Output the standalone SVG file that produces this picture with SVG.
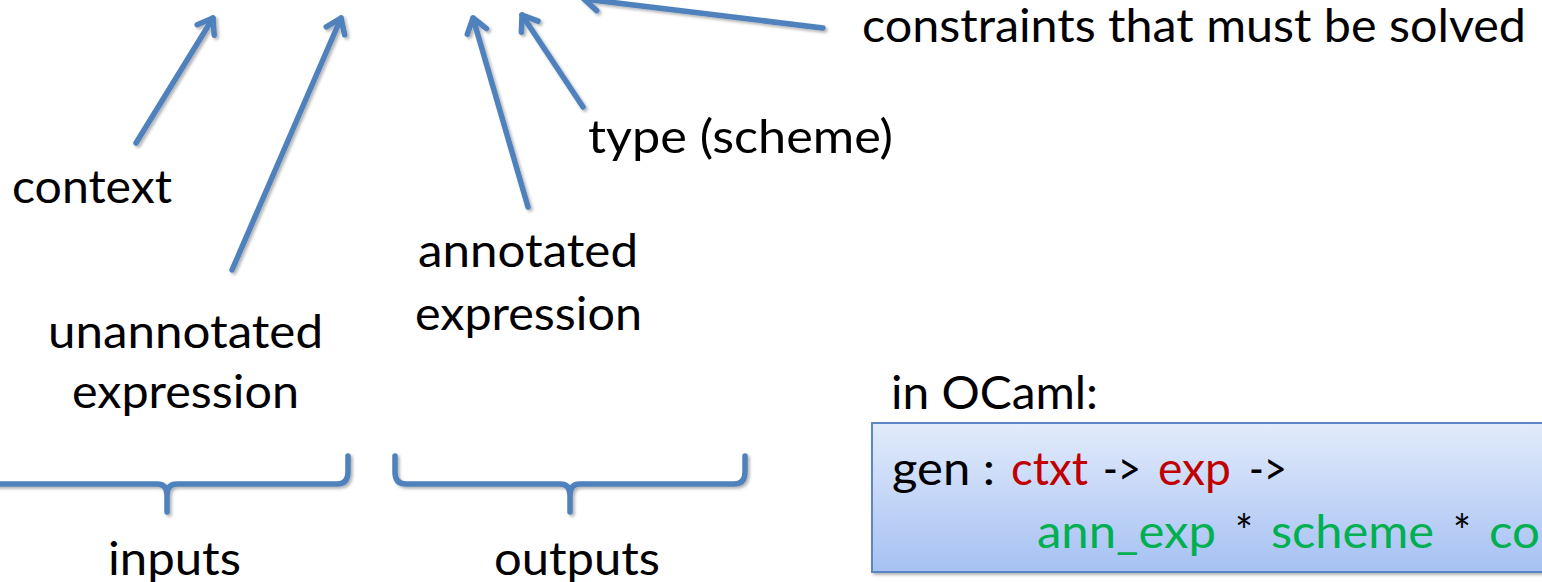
<svg xmlns="http://www.w3.org/2000/svg" width="1542" height="582" viewBox="0 0 1542 582">
<style>
  text { font-family: Lato, "Liberation Sans", sans-serif; font-size: 46px; fill: #000; }
  .conn { fill: none; stroke: #4F81BD; stroke-width: 5.5; stroke-linecap: round; stroke-linejoin: round; }
  .red { fill: #C00000; }
  .green { fill: #00B050; }
</style>
<defs>
  <marker id="head" markerUnits="userSpaceOnUse" markerWidth="40" markerHeight="40" viewBox="-20 -20 40 40" refX="0" refY="0" orient="auto">
    <path d="M -14 -10 L 0 0 L -14 10" fill="none" stroke="#4F81BD" stroke-width="5.5" stroke-linecap="round" stroke-linejoin="round"/>
  </marker>
  <filter id="shadow" x="-10%" y="-10%" width="130%" height="130%">
    <feDropShadow dx="2" dy="2" stdDeviation="1.5" flood-color="#000" flood-opacity="0.3"/>
  </filter>
  <linearGradient id="boxfill" x1="0" y1="0" x2="0" y2="1">
    <stop offset="0" stop-color="#E2EBFB"/>
    <stop offset="1" stop-color="#A6C1F3"/>
  </linearGradient>
</defs>
<rect width="1542" height="582" fill="#fff"/>

<g id="connectors" filter="url(#shadow)">
  <line class="conn" x1="136" y1="143" x2="213" y2="18" marker-end="url(#head)"/>
  <line class="conn" x1="232" y1="270" x2="341" y2="18" marker-end="url(#head)"/>
  <line class="conn" x1="528" y1="207" x2="473" y2="18" marker-end="url(#head)"/>
  <line class="conn" x1="583" y1="107" x2="522" y2="15" marker-end="url(#head)"/>
  <line class="conn" x1="823" y1="28" x2="584" y2="-1" marker-end="url(#head)"/>
  <path class="conn" d="M -5 484 H 157 Q 167 484 167 495 V 512 M 167 495 Q 167 484 177 484 H 337 Q 348 484 348 472 V 456"/>
  <path class="conn" d="M 395 456 V 472 Q 395 484 406 484 H 560 Q 570 484 570 495 V 512 M 570 495 Q 570 484 580 484 H 734 Q 745 484 745 472 V 456"/>
</g>

<g id="context"><text x="12" y="203" textLength="160" lengthAdjust="spacingAndGlyphs">context</text></g>
<g id="unannotated-expression">
  <text x="48" y="348" textLength="275" lengthAdjust="spacingAndGlyphs">unannotated</text>
  <text x="72" y="408" textLength="227" lengthAdjust="spacingAndGlyphs">expression</text>
</g>
<g id="annotated-expression">
  <text x="418" y="267" textLength="220" lengthAdjust="spacingAndGlyphs">annotated</text>
  <text x="415" y="330" textLength="227" lengthAdjust="spacingAndGlyphs">expression</text>
</g>
<g id="type-scheme"><text x="588" y="153" textLength="305" lengthAdjust="spacingAndGlyphs">type (scheme)</text></g>
<g id="constraints"><text x="862" y="42" textLength="664" lengthAdjust="spacingAndGlyphs">constraints that must be solved</text></g>
<g id="inputs"><text x="108" y="575" textLength="133" lengthAdjust="spacingAndGlyphs">inputs</text></g>
<g id="outputs"><text x="494" y="575" textLength="166" lengthAdjust="spacingAndGlyphs">outputs</text></g>
<g id="in-ocaml"><text x="891" y="409" textLength="207" lengthAdjust="spacingAndGlyphs">in OCaml:</text></g>

<g id="ocaml-box">
  <rect x="872" y="423" width="700" height="149" fill="url(#boxfill)" stroke="#5B86C4" stroke-width="2" filter="url(#shadow)"/>
  <text x="892" y="485" textLength="103" lengthAdjust="spacingAndGlyphs">gen :</text>
  <text class="red" x="1011" y="485" textLength="77" lengthAdjust="spacingAndGlyphs">ctxt</text>
  <text x="1103" y="485" textLength="38" lengthAdjust="spacingAndGlyphs">-&gt;</text>
  <text class="red" x="1158" y="485" textLength="73" lengthAdjust="spacingAndGlyphs">exp</text>
  <text x="1249" y="485" textLength="38" lengthAdjust="spacingAndGlyphs">-&gt;</text>
  <text class="green" x="1037" y="548" textLength="179" lengthAdjust="spacingAndGlyphs">ann_exp</text>
  <text x="1235" y="548" textLength="18" lengthAdjust="spacingAndGlyphs">*</text>
  <text class="green" x="1271" y="548" textLength="163" lengthAdjust="spacingAndGlyphs">scheme</text>
  <text x="1453" y="548" textLength="18" lengthAdjust="spacingAndGlyphs">*</text>
  <text class="green" x="1489" y="548" textLength="51" lengthAdjust="spacingAndGlyphs">co</text>
</g>
</svg>
